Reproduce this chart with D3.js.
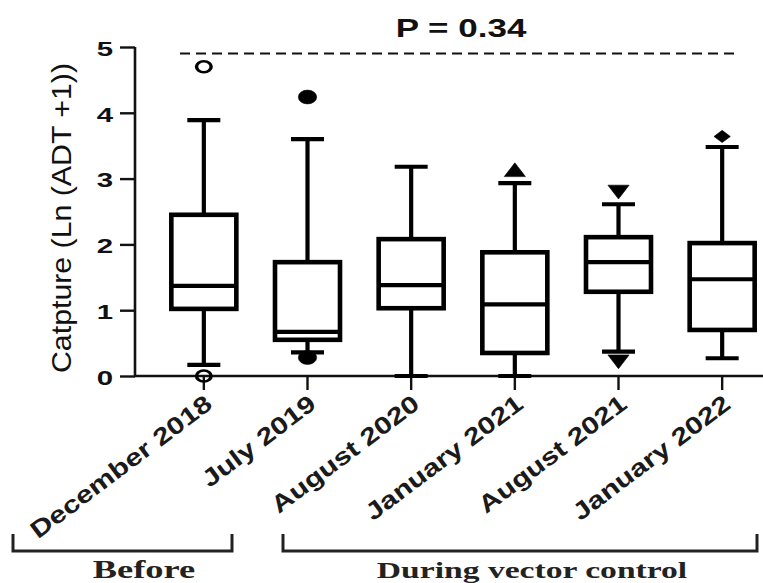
<!DOCTYPE html>
<html><head><meta charset="utf-8">
<script src="https://cdn.jsdelivr.net/npm/d3@7"></script>
<style>
html,body{margin:0;padding:0;background:#fff;}
svg{display:block;}
</style></head>
<body>
<svg id="chart" width="763" height="583"></svg>
<script>
const categories = ["December 2018","July 2019","August 2020","January 2021","August 2021","January 2022"];
const whiskerLow  = [0.17, 0.36, 0.00, 0.00, 0.37, 0.27];
const q1          = [1.02, 0.55, 1.03, 0.35, 1.28, 0.70];
const median      = [1.37, 0.67, 1.38, 1.09, 1.73, 1.47];
const q3          = [2.45, 1.73, 2.08, 1.88, 2.11, 2.02];
const whiskerHigh = [3.89, 3.60, 3.18, 2.93, 2.61, 3.48];
const symbolKind  = ["circleOpen","circle","none","triangle","triangleDown","diamond"];
const outlierCat   = ["December 2018","December 2018","July 2019","July 2019","January 2021","August 2021","August 2021","January 2022"];
const outlierValue = [4.70, 0.00, 4.24, 0.28, 3.10, 2.83, 0.25, 3.64];
const yTicks = [0,1,2,3,4,5];
const yTitle = "Catpture (Ln (ADT +1))";
const pText = "P = 0.34";
const pLineValue = 4.9;
const groups = [{label:"Before", from:0, to:0}, {label:"During vector control", from:1, to:5}];

const SX = 1.4; // horizontal stretch of text in the reference
const svg = d3.select("#chart");
const x = d3.scaleBand().domain(categories).range([152, 774]).padding(0);
const cx = c => x(c) + x.bandwidth()/2;
const y = d3.scaleLinear().domain([0,5]).range([376, 47]);
const boxW = 65, capW = 33;
const sans = "'Liberation Sans', Arial, sans-serif";

// Y axis
const ya = svg.append("g").attr("transform","translate(135,0)")
  .call(d3.axisLeft(y).tickValues(yTicks).tickSize(15).tickPadding(0).tickFormat(d3.format("d")));
ya.select(".domain").attr("stroke","#111").attr("stroke-width",2.6).attr("d", `M0,${y(5)}V${y(0)}`);
ya.selectAll(".tick line").attr("stroke","#111").attr("stroke-width",2.4);
ya.selectAll(".tick text").each(function(d){
  d3.select(this).attr("x",null).attr("dy",null)
    .attr("text-anchor","end").attr("dominant-baseline","central")
    .attr("font-family",sans).attr("font-weight","bold").attr("font-size",21).attr("fill","#111")
    .attr("transform",`translate(-22,1) scale(${SX},1)`);
});

// X axis
svg.append("line").attr("x1",134).attr("x2",763).attr("y1",y(0)).attr("y2",y(0))
  .attr("stroke","#111").attr("stroke-width",2.6);
const xa = svg.append("g").attr("transform",`translate(0,${y(0)})`)
  .call(d3.axisBottom(x).tickSize(14).tickSizeOuter(0).tickFormat(""));
xa.select(".domain").remove();
xa.selectAll(".tick line").attr("stroke","#111").attr("stroke-width",2.4);

// X labels (rotated, stretched along baseline)
svg.append("g").selectAll("text").data(categories).join("text")
  .attr("transform", d => `translate(${cx(d)+10},${y(0)+31}) rotate(-37)`)
  .attr("text-anchor","end")
  .attr("font-family",sans).attr("font-weight","bold").attr("font-size",24).attr("fill","#1a1a1a")
  .text(d => d)
  .each(function(){
    const len = this.getComputedTextLength();
    d3.select(this).attr("textLength", len*1.25).attr("lengthAdjust","spacingAndGlyphs");
  });

// Y title
svg.append("text")
  .attr("transform",`translate(71,${(63+373)/2}) rotate(-90)`)
  .attr("text-anchor","middle")
  .attr("font-family",sans).attr("font-size",28).attr("fill","#111")
  .attr("textLength",310).attr("lengthAdjust","spacingAndGlyphs")
  .text(yTitle);

// Boxes
const bx = svg.append("g").attr("stroke","#000").attr("fill","none");
categories.forEach((c,i) => {
  const X = cx(c);
  bx.append("line").attr("x1",X).attr("x2",X).attr("y1",y(q3[i])).attr("y2",y(whiskerHigh[i])).attr("stroke-width",4.2);
  bx.append("line").attr("x1",X).attr("x2",X).attr("y1",y(q1[i])).attr("y2",y(whiskerLow[i])).attr("stroke-width",4.2);
  bx.append("line").attr("x1",X-capW/2).attr("x2",X+capW/2).attr("y1",y(whiskerHigh[i])).attr("y2",y(whiskerHigh[i])).attr("stroke-width",4.2);
  bx.append("line").attr("x1",X-capW/2).attr("x2",X+capW/2).attr("y1",y(whiskerLow[i])).attr("y2",y(whiskerLow[i])).attr("stroke-width",4.2);
  bx.append("rect").attr("x",X-boxW/2).attr("y",y(q3[i])).attr("width",boxW).attr("height",y(q1[i])-y(q3[i]))
    .attr("fill","#fff").attr("stroke-width",4.6);
  bx.append("line").attr("x1",X-boxW/2).attr("x2",X+boxW/2).attr("y1",y(median[i])).attr("y2",y(median[i])).attr("stroke-width",4.2);
});

// Outlier symbols
const symGen = {
  circle: d3.symbol().type(d3.symbolCircle).size(150),
  circleOpen: d3.symbol().type(d3.symbolCircle).size(95),
  triangle: d3.symbol().type(d3.symbolTriangle).size(110),
  triangleDown: d3.symbol().type(d3.symbolTriangle).size(110),
  diamond: d3.symbol().type(d3.symbolSquare).size(75)
};
outlierCat.forEach((c,k) => {
  const i = categories.indexOf(c);
  const kind = symbolKind[i];
  const rot = kind === "triangleDown" ? 180 : (kind === "diamond" ? 45 : 0);
  svg.append("path").attr("d", symGen[kind]())
    .attr("transform",`translate(${cx(c)},${y(outlierValue[k])}) scale(${SX*0.95},1) rotate(${rot})`)
    .attr("fill", kind === "circleOpen" ? "none" : "#000")
    .attr("stroke","#000").attr("stroke-width", kind === "circleOpen" ? 2.6 : 0.5);
});

// P-value line & label
svg.append("line").attr("x1",180).attr("x2",737).attr("y1",y(pLineValue)).attr("y2",y(pLineValue))
  .attr("stroke","#111").attr("stroke-width",2).attr("stroke-dasharray","10,6");
svg.append("text").attr("transform",`translate(461,37) scale(${SX},1)`).attr("text-anchor","middle")
  .attr("font-family",sans).attr("font-weight","bold").attr("font-size",25).attr("fill","#111").text(pText);

// Group brackets
const bracket = [{x1:13, x2:232, tx:144, fs:26}, {x1:283, x2:757, tx:532, fs:24}];
groups.forEach((g,k) => {
  const b = bracket[k];
  svg.append("path").attr("d",`M${b.x1},534V551H${b.x2}V534`).attr("fill","none").attr("stroke","#222").attr("stroke-width",3);
  svg.append("text").attr("transform",`translate(${b.tx},578) scale(${SX},1)`).attr("text-anchor","middle")
    .attr("font-family","'Liberation Serif','Times New Roman',serif").attr("font-weight","bold").attr("font-size",b.fs)
    .attr("fill","#222").text(g.label);
});
</script>
</body></html>
